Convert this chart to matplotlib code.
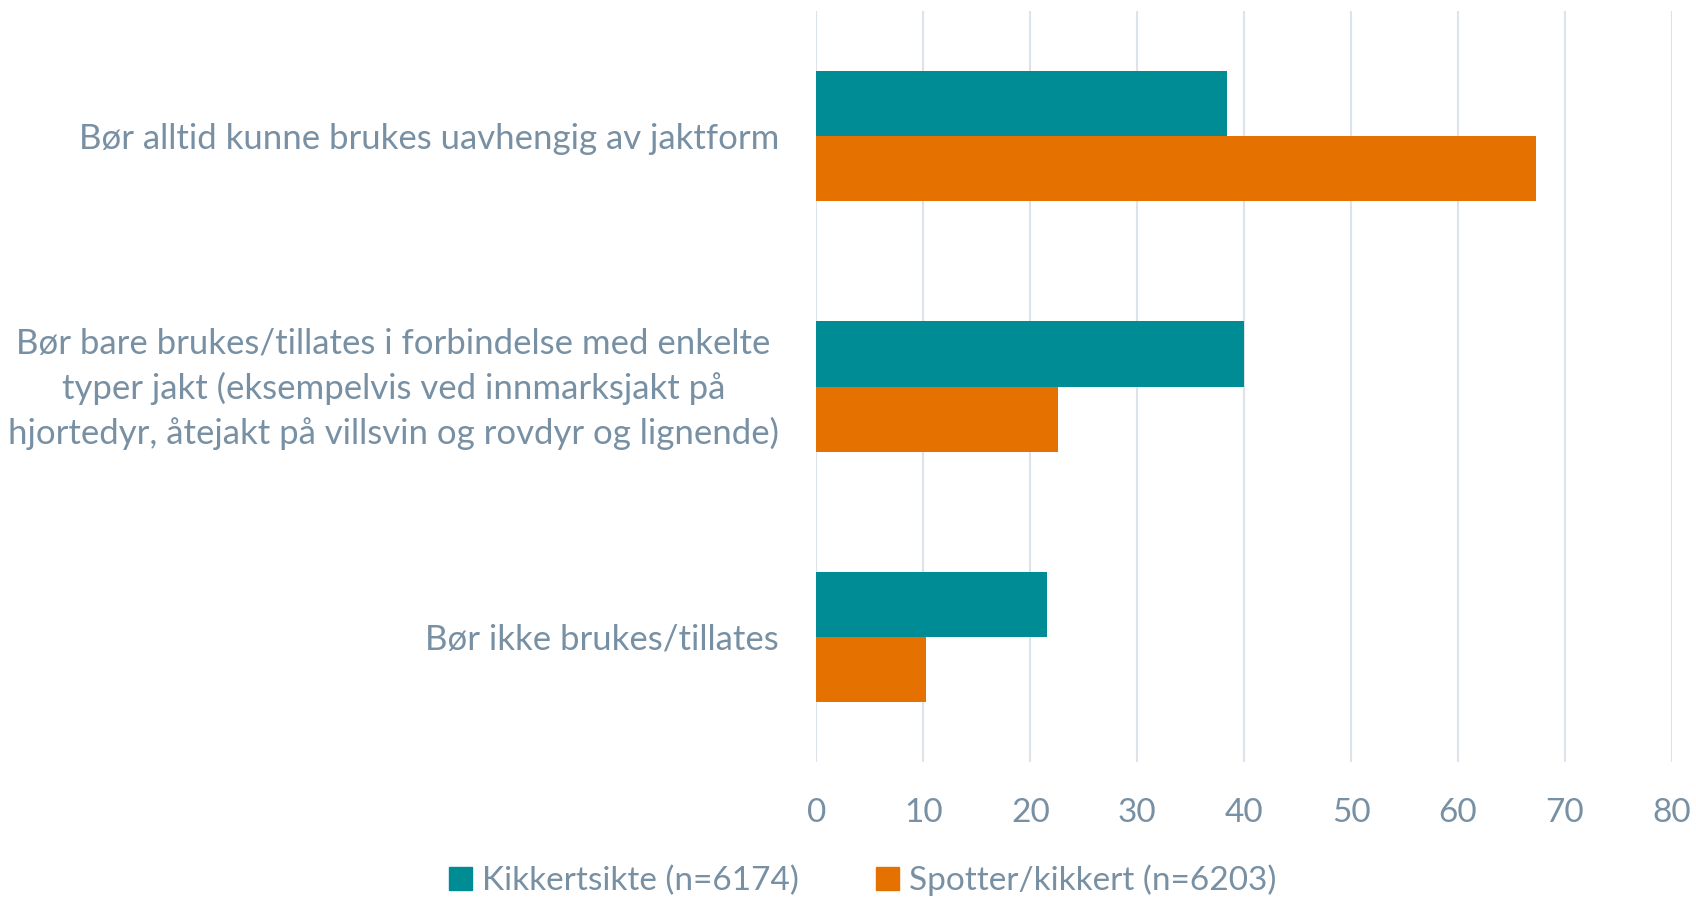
import matplotlib
matplotlib.use("Agg")
import matplotlib.pyplot as plt
import matplotlib.transforms as mtransforms
from matplotlib.patches import Patch
import numpy as np

# categories (top to bottom) and survey shares in percent
categories = [
    "Bør alltid kunne brukes uavhengig av jaktform",
    "Bør bare brukes/tillates i forbindelse med enkelte\ntyper jakt (eksempelvis ved innmarksjakt på\nhjortedyr, åtejakt på villsvin og rovdyr og lignende)",
    "Bør ikke brukes/tillates",
]
kikkertsikte = [38.4, 40.0, 21.6]
spotter = [67.3, 22.6, 10.2]
series_names = ["Kikkertsikte (n=6174)", "Spotter/kikkert (n=6203)"]
xticks = [0, 10, 20, 30, 40, 50, 60, 70, 80]

teal = "#008C95"
orange = "#E57200"
textcol = "#7890A4"
gridcol = "#DDE3EA"

plt.rcParams["font.family"] = ["Lato", "DejaVu Sans"]

fig = plt.figure(figsize=(16.96, 9), dpi=100)
ax = fig.add_axes([0.4814, 0.1533, 0.5044, 0.8345])

y = np.arange(len(categories))
h = 0.26
ax.barh(y - h / 2, kikkertsikte, height=h, color=teal, zorder=3)
ax.barh(y + h / 2, spotter, height=h, color=orange, zorder=3)

ax.set_ylim(len(categories) - 0.5, -0.5)
ax.set_xlim(0, 80)
ax.set_xticks(xticks)
ax.set_yticks(y)
ax.set_yticklabels(categories, multialignment="center", linespacing=1.45)
ax.tick_params(axis="y", length=0, pad=27, labelsize=25, labelcolor=textcol)
ax.tick_params(axis="x", length=0, pad=26, labelsize=24, labelcolor=textcol)
ax.xaxis.grid(True, color=gridcol, linewidth=1.5, zorder=0)
for s in ax.spines.values():
    s.set_visible(False)

# nudge the three-line label up a little so it sits centred on the bar pair
lbl = ax.get_yticklabels()[1]
lbl.set_transform(lbl.get_transform() + mtransforms.ScaledTranslation(0, 5 / 72, fig.dpi_scale_trans))

handles = [Patch(color=teal), Patch(color=orange)]
fig.legend(handles, series_names, loc="center", bbox_to_anchor=(0.5086, 0.022),
           ncol=2, frameon=False, fontsize=24, labelcolor=textcol,
           handlelength=0.7, handleheight=0.7, handletextpad=0.3, columnspacing=2.3)

fig.savefig("out.png", dpi=100)
